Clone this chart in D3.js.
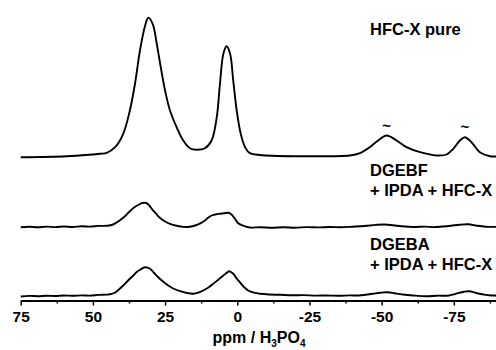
<!DOCTYPE html>
<html><head><meta charset="utf-8">
<script src="https://cdn.jsdelivr.net/npm/d3@7"></script>
<style>
html,body{margin:0;padding:0;background:#fff;}
svg{display:block;font-family:"Liberation Sans",Arial,sans-serif;}
</style></head>
<body>
<svg id="chart" width="496" height="350"></svg>
<script>
// ---- data ----
const majorTicks = [75, 50, 25, 0, -25, -50, -75];
const minorTicks = [62.5, 37.5, 12.5, -12.5, -37.5, -62.5, -87.5];

const seriesNames = ["HFC-X pure", "DGEBF", "DGEBA"];
const seriesLabels = [["HFC-X pure"], ["DGEBF", "+ IPDA + HFC-X"], ["DGEBA", "+ IPDA + HFC-X"]];
const stackOffsets = [144, 73, 4];

const pureShift = [75, 59.1, 47.5, 45.2, 42.3, 39.5, 37.2, 35.4, 33.7, 31.9, 30.8, 29.3, 27.9, 26.5, 25.0, 23.3, 21.0, 18.7, 16.4, 14.1, 11.2, 8.9, 7.1, 6.0, 4.8, 3.7, 2.5, 1.4, 0.2, -1.2, -2.7, -4.4, -10.2, -21.7, -39.0, -42.5, -45.9, -48.8, -51.7, -55.2, -58.6, -63.3, -69.0, -72.5, -74.8, -77.1, -78.8, -81.1, -84.0, -87.5, -89.6];
const pureInt = [-0.7, 0.3, 2.7, 3.7, 9.3, 22.7, 46, 73, 106, 131, 138.7, 132.7, 113, 89.3, 66, 46, 29.3, 16, 8.3, 6.7, 8.3, 16, 39.3, 72.7, 103, 110.3, 103, 76, 46, 22.7, 9.3, 3.3, 1, 0.3, 1, 3.3, 9.3, 16, 21, 16, 9.3, 4.3, 1, 2, 7.7, 16, 19.3, 14.3, 4.3, 0.3, 0];

const dgebfShift = [75, 72, 69, 66, 63, 60, 57, 54, 51, 48, 45, 43, 41, 39, 37.2, 35.5, 34, 33, 31.5, 30.5, 29.6, 28, 26.8, 25, 23.3, 21, 18.7, 16.5, 14.6, 12.8, 11.2, 10, 8.9, 7.5, 6, 4.5, 3.1, 2.2, 1.4, 0.5, -0.3, -2, -4.4, -8, -12, -16, -20, -24, -28, -32, -36, -40, -44, -48, -51, -54, -57, -61, -65, -68, -71, -74, -77, -80, -83, -86, -89.6];
const dgebfInt = [0.3, 0.8, 0.2, 0.9, 0.4, 1.0, 0.5, 1.2, 0.9, 1.6, 1.8, 3.0, 6.5, 11, 16.3, 20.5, 23, 24.3, 24.5, 22, 18.7, 13.5, 9.7, 6, 3.7, 1.8, 0.6, 0.8, 2, 4.2, 7, 10, 12, 13, 13.7, 14.3, 14.7, 13.5, 11, 7.5, 4.3, 1.8, 0.0, 0.3, -0.3, 0.2, -0.2, 0.4, 0.1, 0.5, 0.2, 0.8, 1.5, 2.6, 3.0, 2.2, 1.2, 0.5, 0.9, 0.4, 1.0, 1.8, 2.8, 3.2, 1.8, 0.8, 0.6];

const dgebaShift = [75, 72, 69, 66, 63, 60, 57, 54, 51, 48, 45, 43.5, 42.3, 41, 39.5, 37.8, 36, 34.8, 33.7, 31.9, 30.2, 28.8, 27.4, 25.5, 23.9, 21.8, 19.8, 17.5, 15.2, 13.5, 11.8, 10, 8.3, 6.5, 4.8, 3.5, 2.8, 1.4, 0.2, -0.9, -2.3, -3.8, -5.8, -7.9, -11, -14.8, -19, -23, -27, -31, -35, -39, -42.2, -44.5, -46.9, -49.5, -52.1, -54.5, -57.3, -61, -65.3, -69, -73.3, -75, -76.8, -78.5, -80.3, -82, -83.8, -86, -88.4, -89.6];
const dgebaInt = [0, 0.6, 0.3, 0.8, 0.5, 1.0, 0.7, 1.1, 0.9, 1.6, 1.9, 2.6, 4, 7, 11, 16, 21, 24.5, 26.7, 29.3, 27.7, 23.5, 19.3, 14.5, 11, 7.5, 5.3, 3.5, 2.7, 3.8, 6, 9, 12.7, 17, 21, 24, 25.3, 22.7, 18, 14.3, 9.5, 6, 3.8, 2.7, 2.0, 1.7, 1.2, 1.4, 0.9, 1.0, 0.7, 1.1, 1, 1.8, 2.7, 3.8, 4.3, 3.2, 2, 1.0, 0.3, 0.8, 1, 2.2, 3.7, 4.8, 5.3, 4.2, 2.7, 1.6, 1, 1];

const sidebandShifts = [-51.7, -78.8];
const sidebandHeights = [21, 19.3];

const axisTitleParts = [["ppm / H", false], ["3", true], ["PO", false], ["4", true]];

// ---- drawing ----
const svg = d3.select("#chart");
const x = d3.scaleLinear().domain([75, -89.6]).range([20.7, 496]);
const y = d3.scaleLinear().domain([0, 290]).range([300.5, 10.5]);

const series = [
  {shift: pureShift, inten: pureInt},
  {shift: dgebfShift, inten: dgebfInt},
  {shift: dgebaShift, inten: dgebaInt}
];

const line = d3.line()
  .x(d => x(d[0]))
  .y(d => y(d[1]))
  .curve(d3.curveCatmullRom.alpha(0.5));

series.forEach((s, i) => {
  const pts = s.shift.map((p, k) => [p, s.inten[k] + stackOffsets[i]]);
  svg.append("path")
    .datum(pts)
    .attr("d", line)
    .attr("fill", "none")
    .attr("stroke", "#000")
    .attr("stroke-width", 1.9)
    .attr("stroke-linejoin", "round");
});

// sideband markers
svg.selectAll("text.sb").data(sidebandShifts).enter().append("text")
  .attr("class", "sb")
  .attr("x", d => x(d))
  .attr("y", (d, k) => y(sidebandHeights[k] + stackOffsets[0]) - 5)
  .attr("text-anchor", "middle")
  .attr("font-size", 15)
  .attr("font-weight", "bold")
  .text("~");

// labels
const labelY = [[35], [175.5, 196], [250, 270]];
seriesLabels.forEach((lines, i) => {
  lines.forEach((t, j) => {
    svg.append("text")
      .attr("x", 370)
      .attr("y", labelY[i][j])
      .attr("font-size", 16.5)
      .attr("font-weight", "bold")
      .attr("fill", "#000")
      .text(t);
  });
});

// x axis
const axisG = svg.append("g").attr("transform", "translate(0,300.5)");
axisG.call(d3.axisBottom(x).tickValues(majorTicks).tickSize(5).tickSizeOuter(0).tickPadding(5).tickFormat(d => String(d)));
axisG.select(".domain").attr("stroke-width", 1.8).attr("stroke", "#000");
axisG.selectAll(".tick line").attr("stroke-width", 1.5).attr("stroke", "#000");
axisG.selectAll(".tick text")
  .attr("font-size", 15.5).attr("font-weight", "bold")
  .attr("font-family", "'Liberation Sans', Arial, sans-serif").attr("fill", "#000");
const minorG = svg.append("g").attr("transform", "translate(0,300.5)");
minorG.call(d3.axisBottom(x).tickValues(minorTicks).tickSize(3).tickSizeOuter(0).tickFormat(""));
minorG.select(".domain").remove();
minorG.selectAll(".tick line").attr("stroke-width", 1.5).attr("stroke", "#000");

// axis title
const title = svg.append("text")
  .attr("x", 259).attr("y", 343)
  .attr("text-anchor", "middle")
  .attr("font-size", 16).attr("font-weight", "bold");
axisTitleParts.forEach(([t, sub]) => {
  title.append("tspan")
    .attr("font-size", sub ? 10 : 16)
    .attr("dy", sub ? 4 : (t === "PO" ? -4 : 0))
    .text(t);
});
</script>
</body></html>
